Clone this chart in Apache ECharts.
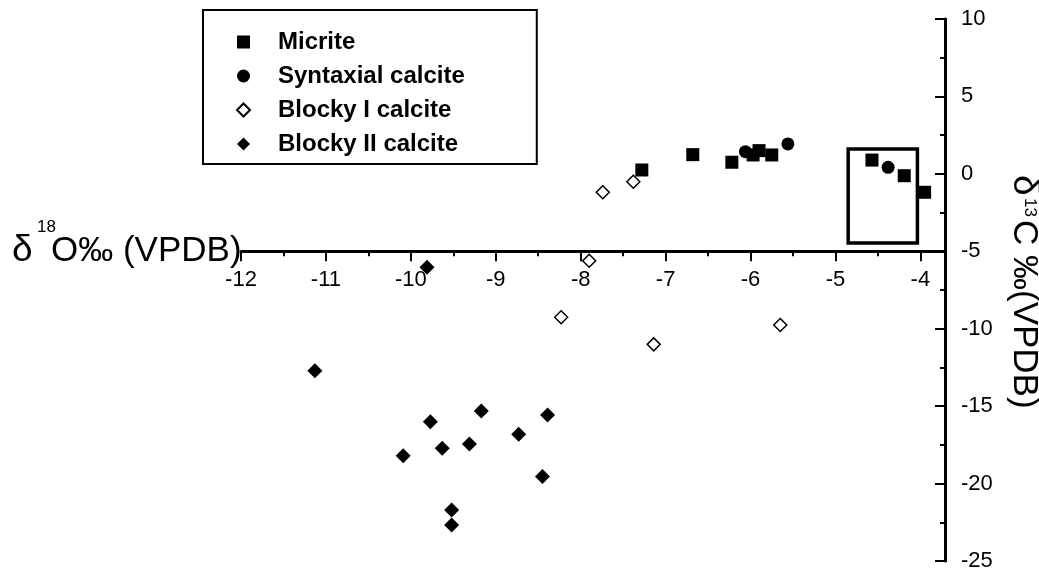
<!DOCTYPE html>
<html><head><meta charset="utf-8">
<script src="https://cdn.jsdelivr.net/npm/echarts@6/dist/echarts.min.js"></script>
<style>html,body{margin:0;padding:0;background:#fff}#c{width:1039px;height:573px}</style>
</head><body><div id="c"></div>
<script>
// ---- data ----
const seriesNames = ['Micrite', 'Syntaxial calcite', 'Blocky I calcite', 'Blocky II calcite'];
const micriteX = [-7.28, -6.68, -6.22, -5.97, -5.90, -5.75, -4.57, -4.19, -3.95];
const micriteY = [0.25, 1.24, 0.75, 1.22, 1.50, 1.22, 0.89, -0.12, -1.19];
const syntaxialX = [-6.06, -5.56, -4.38];
const syntaxialY = [1.43, 1.93, 0.42];
const blockyIX = [-7.74, -7.38, -7.90, -8.23, -7.14, -5.65];
const blockyIY = [-1.19, -0.51, -5.61, -9.26, -11.01, -9.76];
const blockyIIX = [-9.81, -11.13, -9.77, -9.17, -8.39, -8.73, -9.31, -9.63, -10.09, -8.45, -9.52, -9.52];
const blockyIIY = [-6.03, -12.71, -16.0, -15.31, -15.57, -16.82, -17.44, -17.72, -18.2, -19.55, -21.71, -22.68];
const boxX = [-4.85, -4.035];
const boxY = [1.61, -4.46];
const xRange = [-12, -3.71];
const yRange = [-25, 10];
const xCrossAtY = -5;
const xName = ['δ', '18', 'O‰ (VPDB)'];
const yName = ['δ', '13', 'C ‰(VPDB)'];

const zip = (a, b) => a.map((v, i) => [v, b[i]]);

// ---- layout ----
const G = { left: 241, right: 94, top: 19, bottom: 12 };
const gridH = 573 - G.top - G.bottom;
const crossPx = G.top + gridH * (yRange[1] - xCrossAtY) / (yRange[1] - yRange[0]);
const FONT = 'Liberation Sans, Arial, sans-serif';
const black = '#000';

const chart = echarts.init(document.getElementById('c'), null, { renderer: 'canvas' });
chart.setOption({
  animation: false,
  backgroundColor: '#fff',
  grid: { left: G.left, right: G.right, top: G.top, bottom: G.bottom, containLabel: false },
  legend: {
    orient: 'vertical', left: 203, top: 10,
    padding: [20, 72, 8, 33],
    itemGap: 10, itemWidth: 13, itemHeight: 13,
    borderColor: black, borderWidth: 2,
    selectedMode: false,
    textStyle: { fontFamily: FONT, fontWeight: 'bold', fontSize: 24, color: black, padding: [0, 0, 0, 23] },
    data: seriesNames
  },
  xAxis: [
    {
      type: 'value', min: xRange[0], max: xRange[1], interval: 1,
      position: 'bottom', offset: crossPx - (G.top + gridH),
      axisLine: { onZero: false, lineStyle: { color: black, width: 3 } },
      axisTick: { show: true, length: 10, lineStyle: { color: black, width: 2 } },
      axisLabel: { color: black, fontFamily: FONT, fontSize: 22, margin: 18, showMaxLabel: false },
      splitLine: { show: false }
    },
    {
      type: 'value', min: xRange[0], max: xRange[1], interval: 0.5,
      position: 'top', offset: G.top - crossPx,
      axisLine: { show: false, onZero: false },
      axisTick: { show: true, inside: true, length: 5, lineStyle: { color: black, width: 2 } },
      axisLabel: { show: false },
      splitLine: { show: false }
    }
  ],
  yAxis: {
    type: 'value', min: yRange[0], max: yRange[1], interval: 5,
    position: 'right',
    axisLine: { show: true, onZero: false, lineStyle: { color: black, width: 3 } },
    axisTick: { show: true, inside: true, length: 10, lineStyle: { color: black, width: 2 } },
    minorTick: { show: true, splitNumber: 2, length: 5, lineStyle: { color: black, width: 2 } },
    axisLabel: { color: black, fontFamily: FONT, fontSize: 22, margin: 16 },
    splitLine: { show: false }, minorSplitLine: { show: false }
  },
  series: [
    {
      name: seriesNames[0], type: 'scatter', symbol: 'rect', symbolSize: 13,
      itemStyle: { color: black, opacity: 1 }, data: zip(micriteX, micriteY),
      markArea: {
        silent: true, label: { show: false },
        itemStyle: { color: 'rgba(0,0,0,0)', borderColor: black, borderWidth: 3.5, opacity: 1 },
        data: [[{ coord: [boxX[0], boxY[0]] }, { coord: [boxX[1], boxY[1]] }]]
      }
    },
    {
      name: seriesNames[1], type: 'scatter', symbol: 'circle', symbolSize: 13,
      itemStyle: { color: black, opacity: 1 }, data: zip(syntaxialX, syntaxialY)
    },
    {
      name: seriesNames[2], type: 'scatter', symbol: 'diamond', symbolSize: 13,
      itemStyle: { color: '#fff', borderColor: black, borderWidth: 1.5, opacity: 1 }, data: zip(blockyIX, blockyIY)
    },
    {
      name: seriesNames[3], type: 'scatter', symbol: 'diamond', symbolSize: 15,
      itemStyle: { color: black, opacity: 1 }, data: zip(blockyIIX, blockyIIY)
    }
  ],
  graphic: [
    { type: 'text', x: 12, y: 251, style: { text: xName[0], font: '37px ' + FONT, fill: black, align: 'left', verticalAlign: 'middle' } },
    { type: 'text', x: 37, y: 227, style: { text: xName[1], font: '17px ' + FONT, fill: black, align: 'left', verticalAlign: 'middle' } },
    { type: 'text', x: 51, y: 251, style: { text: xName[2], font: '35px ' + FONT, fill: black, align: 'left', verticalAlign: 'middle' } },
    {
      type: 'group', x: 1012, y: 175, rotation: -Math.PI / 2,
      children: [
        { type: 'text', x: 0, y: -12, style: { text: yName[0], font: '37px ' + FONT, fill: black, align: 'left', verticalAlign: 'middle' } },
        { type: 'text', x: 23, y: -18, style: { text: yName[1], font: '17px ' + FONT, fill: black, align: 'left', verticalAlign: 'middle' } },
        { type: 'text', x: 45, y: -12, style: { text: yName[2], font: '35px ' + FONT, fill: black, align: 'left', verticalAlign: 'middle' } }
      ]
    }
  ]
});
</script></body></html>
